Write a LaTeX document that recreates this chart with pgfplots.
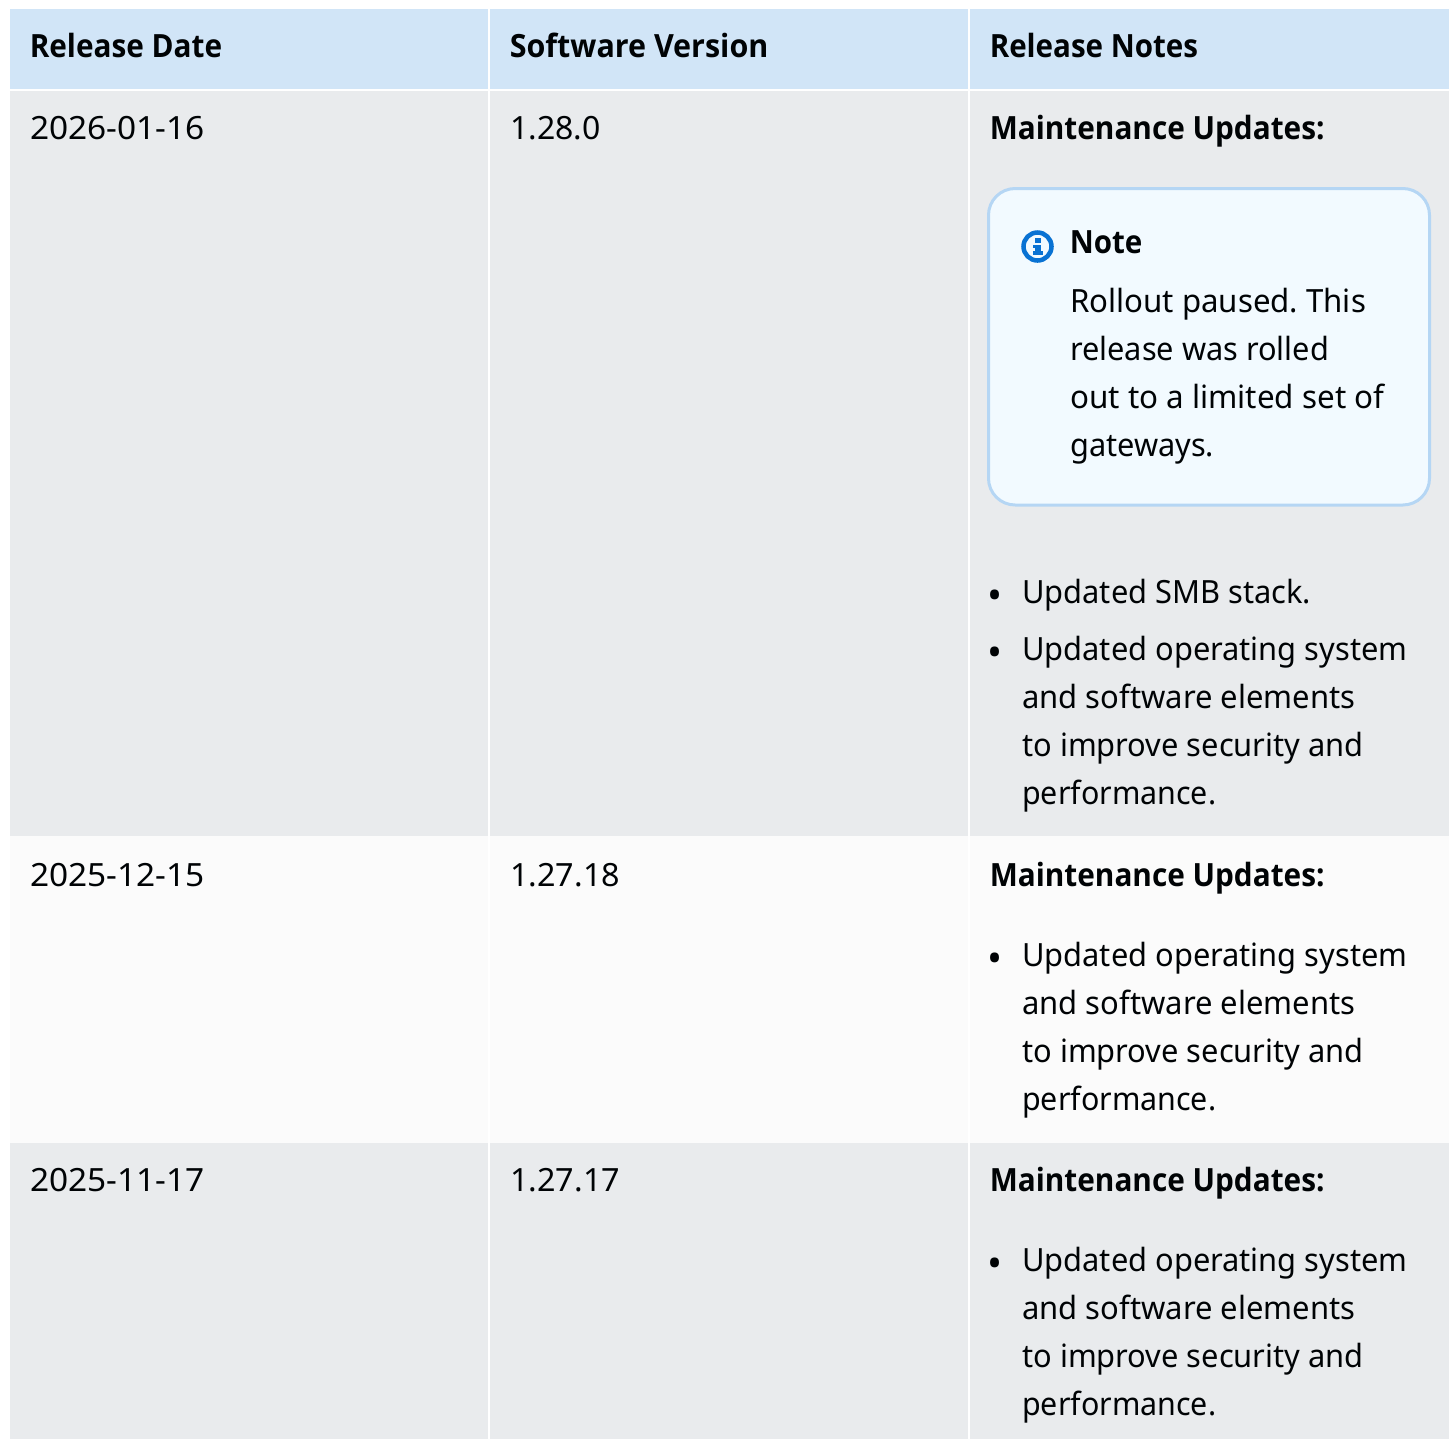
\documentclass[border=0pt]{standalone}
\usepackage{graphicx}
\usepackage{pgfplots}
\pgfplotsset{compat=1.18}
\usepackage{fontspec}
\setmainfont{Noto Sans}
\newfontfamily\boldf{Open Sans}
\frenchspacing
\definecolor{hdr}{HTML}{D1E5F7}
\definecolor{grayrow}{HTML}{E9EBED}
\definecolor{lightrow}{HTML}{FBFBFB}
\definecolor{notefill}{HTML}{F2FAFF}
\definecolor{noteline}{HTML}{B5D6F4}
\definecolor{infoblue}{HTML}{0972D3}
\definecolor{ink}{HTML}{000305}
% x, baseline y, horizontal stretch, text
\newcommand{\T}[4]{\node[anchor=base west,inner sep=0pt,text=ink,font=\fontsize{24}{36}\selectfont] at (axis cs:#1,#2) {\scalebox{#3}[1]{#4}};}
\newcommand{\B}[4]{\node[anchor=base west,inner sep=0pt,text=ink,font=\fontsize{24}{36}\selectfont\boldf\bfseries] at (axis cs:#1,#2) {\scalebox{#3}[1]{#4}};}
\newcommand{\Dot}[2]{\node[anchor=base west,inner sep=0pt,text=ink,font=\fontsize{30}{36}\selectfont] at (axis cs:#1,#2) {•};}
\newcommand{\Cell}[5]{\addplot[fill=#5,draw=none,forget plot] coordinates {(#1,#2)(#3,#2)(#3,#4)(#1,#4)} -- cycle;}
\begin{document}
\begin{tikzpicture}
\begin{axis}[
  scale only axis, width=1087.5pt, height=1079.25pt,
  xmin=0, xmax=1450, ymin=0, ymax=1439, y dir=reverse,
  hide axis, clip=false, enlargelimits=false]
\path (axis cs:0,0) rectangle (axis cs:1450,1439);
% header
\Cell{10}{9}{488.3}{88.8}{hdr}
\Cell{490}{9}{968.3}{88.8}{hdr}
\Cell{970}{9}{1449}{88.8}{hdr}
% row 1
\Cell{10}{90.7}{488.3}{836}{grayrow}
\Cell{490}{90.7}{968.3}{836}{grayrow}
\Cell{970}{90.7}{1449}{836}{grayrow}
% row 2
\Cell{10}{836}{488.3}{1143}{lightrow}
\Cell{490}{836}{968.3}{1143}{lightrow}
\Cell{970}{836}{1449}{1143}{lightrow}
% row 3
\Cell{10}{1143}{488.3}{1439}{grayrow}
\Cell{490}{1143}{968.3}{1439}{grayrow}
\Cell{970}{1143}{1449}{1439}{grayrow}
% header text
\B{29.5}{57}{.93}{Release Date}
\B{509.5}{57}{.952}{Software Version}
\B{989.5}{57}{.923}{Release Notes}
% row 1 text
\T{30}{139}{1.045}{2026-01-16}
\T{510}{139}{1}{1.28.0}
\B{989.5}{139}{.93}{Maintenance Updates:}
\draw[noteline,line width=2.25pt,fill=notefill,rounded corners=20pt] (axis cs:988.5,188.5) rectangle (axis cs:1429.5,505);
\draw[infoblue,line width=3.4pt] (axis cs:1037.5,246.5) circle[radius=10.5pt];
\fill[infoblue] (axis cs:1034.5,238) rectangle (axis cs:1040.5,243);
\fill[infoblue] (axis cs:1033,245) rectangle (axis cs:1040.5,248);
\fill[infoblue] (axis cs:1035,245) rectangle (axis cs:1040.5,252);
\fill[infoblue] (axis cs:1032.5,251) rectangle (axis cs:1042.5,255);
\B{1069.5}{253}{.923}{Note}
\T{1070}{312}{.975}{Rollout paused. This}
\T{1070}{360}{.96}{release was rolled}
\T{1070}{408}{.98}{out to a limited set of}
\T{1070}{456}{.96}{gateways.}
\Dot{987.5}{609}
\T{1022}{603}{.963}{Updated SMB stack.}
\Dot{987.5}{666}
\T{1022}{660}{.963}{Updated operating system}
\T{1022}{708}{.968}{and software elements}
\T{1022}{756}{.963}{to improve security and}
\T{1022}{804}{.95}{performance.}
% row 2 text
\T{30}{886}{1.045}{2025-12-15}
\T{510}{886}{1.01}{1.27.18}
\B{989.5}{886}{.93}{Maintenance Updates:}
\Dot{987.5}{972}
\T{1022}{966}{.963}{Updated operating system}
\T{1022}{1014}{.968}{and software elements}
\T{1022}{1062}{.963}{to improve security and}
\T{1022}{1110}{.95}{performance.}
% row 3 text
\T{30}{1191}{1.045}{2025-11-17}
\T{510}{1191}{1.01}{1.27.17}
\B{989.5}{1191}{.93}{Maintenance Updates:}
\Dot{987.5}{1277}
\T{1022}{1271}{.963}{Updated operating system}
\T{1022}{1319}{.968}{and software elements}
\T{1022}{1367}{.963}{to improve security and}
\T{1022}{1415}{.95}{performance.}
\end{axis}
\end{tikzpicture}
\end{document}
